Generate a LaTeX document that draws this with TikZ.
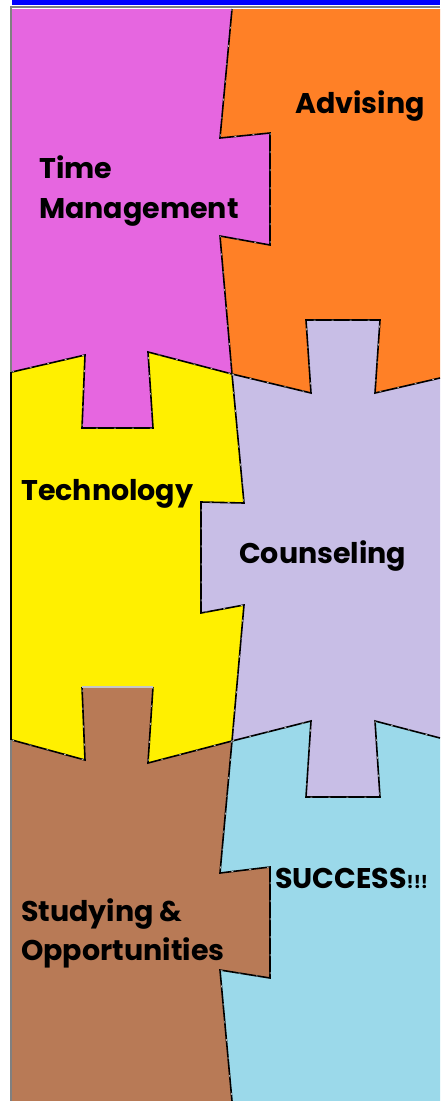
\documentclass[tikz,border=0pt]{standalone}
\usepackage{fontspec}
\setmainfont{Poppins}[BoldFont={Poppins Bold}]
\definecolor{cpink}{RGB}{230,102,224}
\definecolor{corange}{RGB}{255,128,38}
\definecolor{cyellow}{RGB}{255,240,0}
\definecolor{clav}{RGB}{200,190,230}
\definecolor{cbrown}{RGB}{184,122,86}
\definecolor{cblue}{RGB}{155,217,234}
\definecolor{cbar}{RGB}{0,0,255}
\tikzset{
  seam/.style={draw=black, line width=1.6pt, line join=miter},
  glint/.style={draw=white, line width=0.5pt, dash pattern=on 2pt off 16pt},
  lbl/.style={anchor=base west, inner sep=0pt, font=\bfseries\fontsize{28.5}{32}\selectfont, text=black},
}
\begin{document}
\begin{tikzpicture}[x=1pt,y=-1pt]
\useasboundingbox (0,0) rectangle (440,1101);
\fill[white] (0,0) rectangle (440,1101);
% top bar
\fill[cbar] (12,0) rectangle (440,4.5);
% pieces
\fill[cpink] (12,9) -- (232,9) -- (220,138) -- (270,133) -- (270,245) -- (220,236) -- (232,374) -- (148,352) -- (153,428) -- (82,428) -- (85,355) -- (12,372) -- cycle;
\fill[corange] (232,9) -- (440,9) -- (440,378) -- (375,393) -- (380,320) -- (306,320) -- (311,393) -- (232,374) -- (220,236) -- (270,245) -- (270,133) -- (220,138) -- cycle;
\fill[cyellow] (12,372) -- (85,355) -- (82,428) -- (153,428) -- (148,352) -- (232,374) -- (244,503) -- (201,502) -- (201,613) -- (244,605) -- (232,741) -- (148,763) -- (153,687) -- (82,687) -- (85,760) -- (12,740) -- cycle;
\fill[clav] (232,374) -- (311,393) -- (306,320) -- (380,320) -- (375,393) -- (440,378) -- (440,738) -- (375,721) -- (380,797) -- (306,797) -- (311,721) -- (232,741) -- (244,605) -- (201,613) -- (201,502) -- (244,503) -- cycle;
\fill[cbrown] (12,740) -- (85,760) -- (82,687) -- (153,687) -- (148,763) -- (232,741) -- (220,873) -- (270,867) -- (270,978) -- (220,970) -- (232,1101) -- (12,1101) -- cycle;
\fill[cblue] (232,741) -- (311,721) -- (306,797) -- (380,797) -- (375,721) -- (440,738) -- (440,1101) -- (232,1101) -- (220,970) -- (270,978) -- (270,867) -- (220,873) -- cycle;
% frame
\draw[gray, line width=2pt] (11,1101) -- (11,7) -- (440,7);
\draw[black, line width=1.4pt] (11,372) -- (11,740);
% seams
\foreach \s in {seam,glint}{
\draw[\s] (232,9) -- (220,138) -- (270,133) -- (270,245) -- (220,236) -- (232,374);
\draw[\s] (12,372) -- (85,355) -- (82,428) -- (153,428) -- (148,352) -- (232,374);
\draw[\s] (232,374) -- (311,393) -- (306,320) -- (380,320) -- (375,393) -- (440,378);
\draw[\s] (232,374) -- (244,503) -- (201,502) -- (201,613) -- (244,605) -- (232,741);
\draw[\s] (12,740) -- (85,760) -- (82,687);
\draw[\s] (153,687) -- (148,763) -- (232,741);
\draw[\s] (232,741) -- (311,721) -- (306,797) -- (380,797) -- (375,721) -- (440,738);
\draw[\s] (232,741) -- (220,873) -- (270,867) -- (270,978) -- (220,970) -- (232,1101);
}
\draw[gray!45, line width=1.6pt] (82,687) -- (153,687);
% labels
\node[lbl] (time) at (39,178) {Time};
\node[lbl] (mgmt) at (39,218) {Management};
\node[lbl] (adv) at (295,113) {Advising};
\node[lbl] (tech) at (21,500) {Technology};
\node[lbl] (couns) at (239,563) {Counseling};
\node[lbl] (succ) at (275,888) {SUCCESS{\fontsize{18}{20}\selectfont !!!}};
\node[lbl] (stud) at (21,921) {Studying \&};
\node[lbl] (opp) at (21,960) {Opportunities};
\end{tikzpicture}
\end{document}
